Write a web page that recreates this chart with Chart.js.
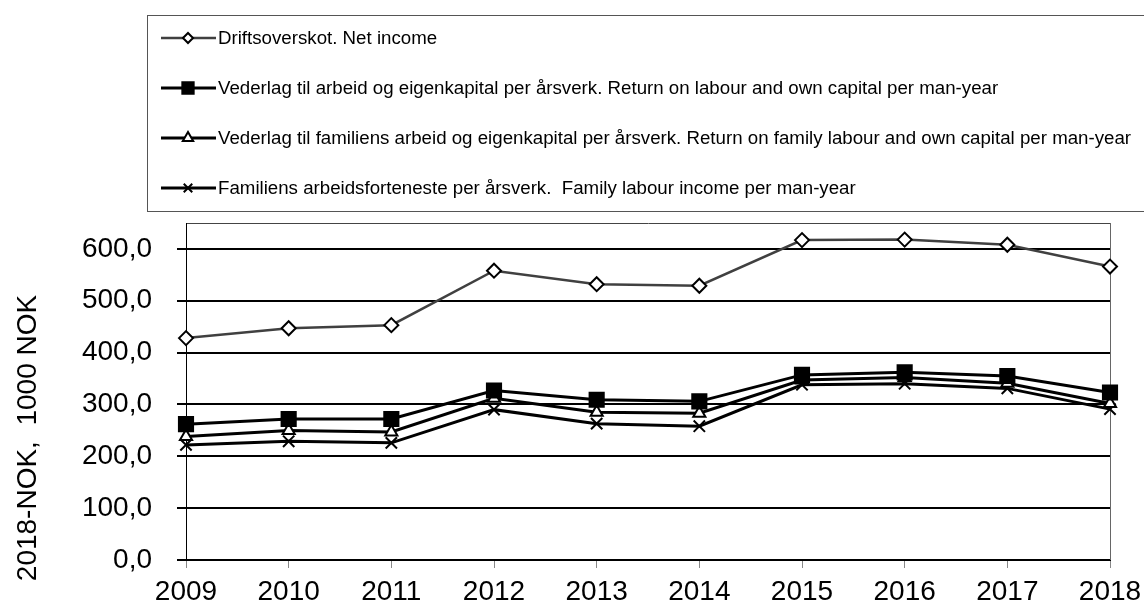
<!DOCTYPE html>
<html>
<head>
<meta charset="utf-8">
<script src="https://cdn.jsdelivr.net/npm/chart.js@4"></script>
<style>
  html, body { margin: 0; padding: 0; background: #ffffff; }
  #wrap { width: 1144px; height: 607px; }
</style>
</head>
<body>
<div id="wrap"><canvas id="graf"></canvas></div>
<script>
// år og verdiar (1000 NOK, 2018-kroner)
const aar = ["2009", "2010", "2011", "2012", "2013", "2014", "2015", "2016", "2017", "2018"];
const driftsoverskot = [428, 447, 453, 558, 532, 529, 617, 618, 608, 566];
const vederlagArbeid = [262, 272, 272, 327, 309, 306, 357, 362, 355, 323];
const vederlagFamilie = [238, 250, 247, 312, 285, 283, 347, 352, 341, 302];
const arbeidsforteneste = [222, 229, 226, 290, 263, 258, 338, 340, 331, 291];
const yTicks = [0, 100, 200, 300, 400, 500, 600, 650];
const etikettar = [
  "Driftsoverskot. Net income",
  "Vederlag til arbeid og eigenkapital per årsverk. Return on labour and own capital per man-year",
  "Vederlag til familiens arbeid og eigenkapital per årsverk. Return on family labour and own capital per man-year",
  "Familiens arbeidsforteneste per årsverk.  Family labour income per man-year"
];
const yTittel = "2018-NOK,  1000 NOK";

const FONT = "'Liberation Sans', Arial, sans-serif";
Chart.defaults.font.family = FONT;
Chart.defaults.color = "#000000";

// legende i boks + y-tittel
const teikneLegende = {
  id: "teikneLegende",
  afterDraw(chart) {
    const ctx = chart.ctx;
    ctx.save();
    ctx.strokeStyle = "#555555";
    ctx.lineWidth = 1;
    ctx.strokeRect(147.5, 15.5, 1010, 196);
    ctx.font = "18.7px " + FONT;
    ctx.textBaseline = "middle";
    chart.data.datasets.forEach(function(ds, i) {
      const y = 38 + i * 50;
      ctx.beginPath();
      ctx.strokeStyle = ds.borderColor;
      ctx.lineWidth = ds.borderWidth;
      ctx.moveTo(161, y);
      ctx.lineTo(216, y);
      ctx.stroke();
      ctx.fillStyle = ds.pointBackgroundColor;
      ctx.strokeStyle = "#000000";
      ctx.lineWidth = 2;
      Chart.helpers.drawPoint(ctx, {
        pointStyle: ds.pointStyle,
        radius: ds.legendRadius,
        borderWidth: 2
      }, 188, y);
      ctx.fillStyle = "#000000";
      ctx.fillText(ds.label, 218, y + 1);
    });
    // y-tittel
    ctx.translate(28, 438);
    ctx.rotate(-Math.PI / 2);
    ctx.font = "28px " + FONT;
    ctx.textAlign = "center";
    ctx.fillStyle = "#000000";
    ctx.fillText(yTittel, 0, 0);
    ctx.restore();
  }
};

function serie(label, data, farge, breidde, stil, radius, fyll, legRad) {
  return {
    label: label,
    data: data,
    borderColor: farge,
    borderWidth: breidde,
    pointStyle: stil,
    pointRadius: radius,
    pointHoverRadius: radius,
    pointBackgroundColor: fyll,
    pointBorderColor: "#000000",
    pointBorderWidth: 2,
    legendRadius: legRad,
    tension: 0
  };
}

new Chart(document.getElementById("graf").getContext("2d"), {
  type: "line",
  data: {
    labels: aar,
    datasets: [
      serie(etikettar[0], driftsoverskot, "#404040", 2.5, "rectRot", 7, "#ffffff", 5),
      serie(etikettar[1], vederlagArbeid, "#000000", 3, "rect", 10, "#000000", 8),
      serie(etikettar[2], vederlagFamilie, "#000000", 3, "triangle", 7, "#ffffff", 6),
      serie(etikettar[3], arbeidsforteneste, "#000000", 3, "crossRot", 8, "#ffffff", 6)
    ]
  },
  options: {
    responsive: true,
    maintainAspectRatio: false,
    animation: false,
    layout: { padding: { top: 223, right: 34, left: 0, bottom: 0 } },
    plugins: { legend: { display: false }, tooltip: { enabled: false } },
    scales: {
      x: {
        offset: false,
        afterFit: function(s) { s.height = 47; s.paddingRight = 0; s.paddingLeft = 0; },
        grid: {
          drawOnChartArea: true,
          color: function(c) { return c.index === aar.length - 1 ? "#666666" : "rgba(0,0,0,0)"; },
          lineWidth: 1,
          tickColor: "#888888",
          tickWidth: 1,
          tickLength: 8
        },
        border: { display: true, color: "#000000", width: 1 },
        ticks: { font: { size: 28 }, padding: 7, maxRotation: 0, autoSkip: false }
      },
      y: {
        min: 0,
        max: 650,
        afterFit: function(s) { s.width = 186; s.paddingTop = 0; s.paddingBottom = 0; },
        afterBuildTicks: function(s) { s.ticks = yTicks.map(function(v) { return { value: v }; }); },
        grid: {
          color: function(c) { return c.tick && c.tick.value === 650 ? "#444444" : "#000000"; },
          lineWidth: function(c) { return c.tick && c.tick.value === 650 ? 1 : 2; },
          tickColor: function(c) { return c.tick && c.tick.value === 650 ? "rgba(0,0,0,0)" : "#000000"; },
          tickLength: 9
        },
        border: { display: true, color: "#000000", width: 1 },
        ticks: {
          padding: 25,
          font: { size: 28 },
          callback: function(v) { return v === 650 ? "" : v.toFixed(1).replace(".", ","); }
        }
      }
    }
  },
  plugins: [teikneLegende]
});
</script>
</body>
</html>
